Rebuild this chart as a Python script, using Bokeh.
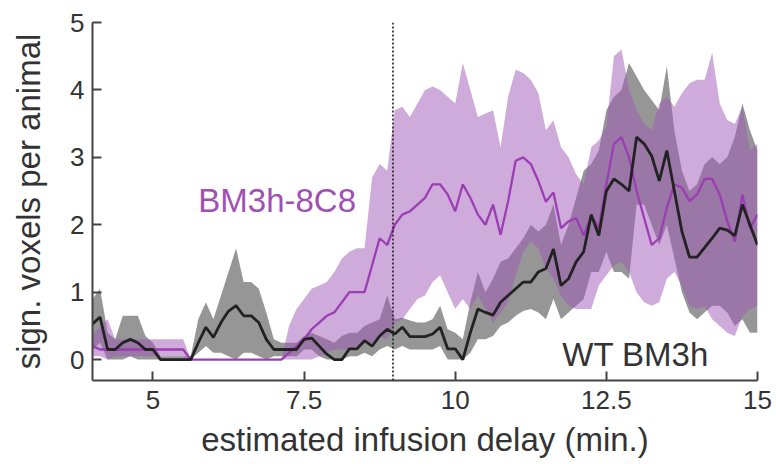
from bokeh.plotting import figure
from bokeh.models import Span, Range1d, Label
from bokeh.embed import file_html
from bokeh.resources import INLINE

# estimated infusion delay (min.), sampled every 0.125 min
delay = [round(4 + 0.125 * i, 3) for i in range(89)]

# WT BM3h: mean and SEM band
wt_mean = [0.53, 0.63, 0.15, 0.15, 0.25, 0.30, 0.25, 0.15, 0.15,
           0, 0, 0, 0, 0,
           0.25, 0.48, 0.33, 0.55, 0.72, 0.80, 0.65, 0.65, 0.55, 0.30, 0.15, 0.15, 0.15, 0.15, 0.30, 0.32, 0.20,
           0.08, 0.0, 0.0, 0.16, 0.16, 0.28, 0.2, 0.35, 0.45, 0.38, 0.48, 0.34, 0.34, 0.34, 0.38, 0.48, 0.16, 0.16,
           0.0, 0.4, 0.75, 0.7, 0.66, 0.85, 0.95, 1.05, 1.15, 1.15, 1.3,
           1.35, 1.64, 1.1, 1.2, 1.45, 1.6, 2.15, 1.84, 2.5, 2.68, 2.6, 2.5, 3.3, 3.2, 3.02, 2.65, 3.1, 2.5,
           1.9, 1.52, 1.52, 1.66, 1.8, 1.95, 1.92, 1.84, 2.3, 2.0, 1.7]
wt_lower = [0.15, 0.25, 0.0, 0.0, 0.0, 0.05, 0.0, 0.0, 0.0,
            0, 0, 0, 0, 0,
            0.1, 0.2, 0.1, 0.1, 0.05, 0.0, 0.1, 0.1, 0.05, 0.0, 0.05, 0.05, 0.05, 0.05, 0.15, 0.15, 0.05,
            0.0, 0.0, 0.0, 0.05, 0.05, 0.1, 0.05, 0.15, 0.2, 0.15, 0.2, 0.15, 0.15, 0.15, 0.15, 0.2, 0.0, 0.0,
            0.0, 0.1, 0.3, 0.3, 0.35, 0.5, 0.55, 0.65, 0.72, 0.75, 0.7,
            0.6, 0.9, 0.6, 0.7, 0.8, 0.9, 1.3, 1.3, 1.6, 1.3, 1.3, 1.2, 2.3, 2.3, 2.0, 1.7, 2.0, 1.5,
            1.0, 0.7, 0.6, 0.7, 0.8, 0.8, 0.7, 0.5, 0.6, 0.4, 0.4]
wt_upper = [0.9, 1.05, 0.4, 0.3, 0.65, 0.65, 0.65, 0.35, 0.25,
            0.05, 0.05, 0.05, 0.05, 0.05,
            0.6, 0.85, 0.6, 0.95, 1.3, 1.65, 1.15, 1.15, 1.05, 0.7, 0.3, 0.25, 0.25, 0.25, 0.35, 0.4, 0.35,
            0.3, 0.25, 0.35, 0.4, 0.4, 0.5, 0.55, 0.6, 0.95, 0.6, 0.62, 0.58, 0.55, 0.55, 0.6, 0.8, 0.45, 0.4,
            0.3, 0.85, 1.3, 1.0, 1.2, 1.45, 1.5, 1.65, 1.8, 2.0, 1.9,
            2.0, 2.3, 1.7, 2.0, 2.4, 2.8, 2.9, 3.1, 3.7, 3.9, 4.0, 4.4, 4.2, 4.0, 3.85, 3.7, 4.35, 3.4,
            2.8, 2.5, 2.6, 2.9, 3.0, 2.9, 3.0, 3.3, 3.8, 3.4, 3.1]

# BM3h-8C8: mean and SEM band
bm_mean = [0.2, 0.15, 0.15, 0.15, 0.15, 0.15, 0.15, 0.15, 0.15, 0.15, 0.15, 0.15, 0.15,
           0, 0, 0, 0, 0, 0, 0, 0, 0, 0, 0, 0, 0,
           0.1, 0.2, 0.3, 0.45, 0.55,
           0.65, 0.7, 0.85, 1.0, 1.0, 1.0, 1.4, 1.8, 1.7, 2.0, 2.15, 2.2, 2.3, 2.4, 2.6, 2.6, 2.45, 2.2,
           2.6, 2.4, 2.15, 2.0, 2.3, 1.85, 2.35, 2.95, 3.0, 2.9, 2.65,
           2.34, 2.48, 1.95, 2.05, 2.1, 1.84, 2.14, 1.95, 2.6, 3.2, 3.3, 3.0, 2.5, 2.1, 1.7,
           1.8, 2.25, 2.6, 2.55, 2.35, 2.45, 2.68, 2.68, 2.45, 2.05, 1.75, 2.45, 1.95, 2.15]
bm_lower = [0.05, 0.05, 0.0, 0.05, 0.05, 0.05, 0.05, 0.05, 0.05, 0.05, 0.05, 0.05, 0.05,
            0, 0, 0, 0, 0, 0, 0, 0, 0, 0, 0, 0, 0,
            0, 0, 0.0, 0.0, 0.05,
            0.1, 0.15, 0.15, 0.15, 0.2, 0.25, 0.25, 0.35, 0.3, 0.55, 0.6, 0.75, 0.9, 0.95, 1.15, 1.25, 1.0, 0.75,
            0.9, 0.75, 0.95, 0.75, 0.55, 0.7, 0.85, 1.25, 1.6, 1.75, 1.65,
            1.35, 1.2, 0.95, 0.8, 0.75, 0.75, 0.75, 1.1, 1.25, 1.4, 1.45, 1.3, 1.0, 0.85, 0.8,
            0.85, 1.2, 1.3, 1.1, 0.8, 0.75, 0.8, 0.6, 0.5, 0.4, 0.35, 0.65, 0.75, 0.8]
bm_upper = [0.35, 0.5, 0.6, 0.3, 0.3, 0.3, 0.3, 0.3, 0.3, 0.3, 0.3, 0.3, 0.3,
            0, 0, 0, 0, 0, 0, 0, 0, 0, 0, 0, 0, 0,
            0.5, 0.75, 0.9, 1.05, 1.1,
            1.15, 1.3, 1.5, 1.6, 1.65, 1.65, 2.7, 2.9, 2.8, 3.7, 3.75, 3.6, 3.8, 4.0, 4.05, 4.0, 3.9, 3.8,
            4.4, 4.0, 3.6, 3.65, 3.7, 3.15, 3.9, 4.3, 4.25, 4.15, 3.95,
            3.4, 3.55, 3.15, 3.0, 2.75, 2.6, 3.15, 3.25, 3.45, 4.5, 4.6, 4.0, 3.7, 3.5, 3.4,
            3.8, 3.9, 3.75, 3.95, 4.1, 4.15, 4.15, 4.55, 3.8, 3.55, 3.5, 3.75, 3.1, 3.2]

infusion_marker = 8.97
x_ticks = [5, 7.5, 10, 12.5, 15]
x_tick_labels = ["5", "7.5", "10", "12.5", "15"]
y_ticks = [0, 1, 2, 3, 4, 5]

FONT = "Liberation Sans"
PURPLE_FILL = "#9e58b5"
PURPLE_LINE = "#9b3db3"
GRAY_FILL = "#969696"

p = figure(width=776, height=464, output_backend="svg", toolbar_location=None,
           x_range=Range1d(4, 15), y_range=Range1d(-0.31, 5),
           min_border_left=92, min_border_right=19, min_border_top=22, min_border_bottom=84)

p.outline_line_color = None
p.xgrid.visible = False
p.ygrid.visible = False
p.background_fill_color = "white"
p.border_fill_color = "white"

p.varea(x=delay, y1=wt_lower, y2=wt_upper, fill_color=GRAY_FILL, fill_alpha=1.0)
p.varea(x=delay, y1=bm_lower, y2=bm_upper, fill_color=PURPLE_FILL, fill_alpha=0.5)
p.line(delay, bm_mean, line_color=PURPLE_LINE, line_width=2.3)
p.line(delay, wt_mean, line_color="#222222", line_width=2.8)

p.add_layout(Span(location=infusion_marker, dimension="height", line_color="#222222",
                  line_dash="2 2", line_width=1.6))

p.add_layout(Label(x=5.75, y=2.36, text="BM3h-8C8", text_font=FONT, text_font_size="33px",
                   text_color="#a24fb5", text_align="left", text_baseline="alphabetic"))
p.add_layout(Label(x=11.77, y=0.08, text="WT BM3h", text_font=FONT, text_font_size="33px",
                   text_color="#333333", text_align="left", text_baseline="alphabetic"))

for ax in (p.xaxis[0], p.yaxis[0]):
    ax.axis_line_color = "#444444"
    ax.axis_line_width = 2
    ax.major_tick_line_color = "#444444"
    ax.major_tick_line_width = 2
    ax.major_tick_in = 9
    ax.major_tick_out = 0
    ax.minor_tick_line_color = None
    ax.major_label_text_font = FONT
    ax.major_label_text_font_size = "26px"
    ax.major_label_text_color = "#333333"
    ax.axis_label_text_font = FONT
    ax.axis_label_text_font_size = "33px"
    ax.axis_label_text_font_style = "normal"
    ax.axis_label_text_color = "#333333"

p.xaxis.ticker = x_ticks
p.xaxis.major_label_overrides = dict(zip(x_ticks, x_tick_labels))
p.xaxis.major_label_standoff = 10
p.xaxis.axis_label = "estimated infusion delay (min.)"
p.xaxis.axis_label_standoff = 9

p.yaxis.ticker = y_ticks
p.yaxis.major_label_standoff = 8
p.yaxis.axis_label = "sign. voxels per animal"
p.yaxis.axis_label_standoff = 20

open("out.html", "w").write(file_html(p, INLINE))
